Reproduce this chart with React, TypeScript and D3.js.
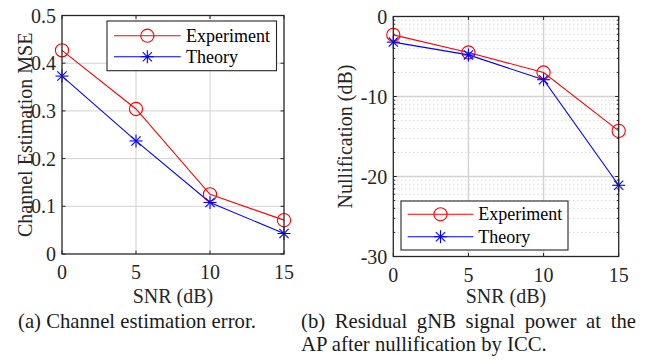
import React from "react";
import * as d3 from "d3";

// SNR sweep shared by both panels
const snr = [0, 5, 10, 15];

// (a) channel estimation MSE
const mseExperiment = [0.427, 0.304, 0.125, 0.071];
const mseTheory = [0.373, 0.237, 0.108, 0.043];
const mseTicks = [0, 0.1, 0.2, 0.3, 0.4, 0.5];

// (b) residual power after nullification (dB)
const nullExperiment = [-2.3, -4.5, -7.0, -14.3];
const nullTheory = [-3.2, -4.8, -7.9, -21.1];
const nullTicks = [-30, -20, -10, 0];

const snrTicks = [0, 5, 10, 15];
const seriesNames = ["Experiment", "Theory"];

const AXIS = "#262626";
const GRID = "#d2d2d2";
const RED = "#ff0000";
const BLUE = "#0000ff";
const SERIF = "Liberation Serif";

function Star({ x, y, color }: { x: number; y: number; color: string }) {
  const r = 6.5;
  const d = 4.6;
  return (
    <g stroke={color} strokeWidth={1.1}>
      <line x1={x - r} y1={y} x2={x + r} y2={y} />
      <line x1={x} y1={y - r} x2={x} y2={y + r} />
      <line x1={x - d} y1={y - d} x2={x + d} y2={y + d} />
      <line x1={x - d} y1={y + d} x2={x + d} y2={y - d} />
    </g>
  );
}

function Circle({ x, y, color }: { x: number; y: number; color: string }) {
  return <circle cx={x} cy={y} r={6.6} fill="none" stroke={color} strokeWidth={1.1} />;
}

type PanelProps = {
  left: number;
  right: number;
  top: number;
  bottom: number;
  yDomain: [number, number];
  yTicks: number[];
  yFormat: (v: number) => string;
  ylabel: string;
  ylabelX: number;
  expVals: number[];
  theoVals: number[];
  minorGrid: boolean;
  legend: { x0: number; x1: number; y0: number; y1: number; row1: number; row2: number; lineX0: number; lineX1: number; textX: number };
};

function Panel(p: PanelProps) {
  const x = d3.scaleLinear().domain([0, 15]).range([p.left, p.right]);
  const y = d3.scaleLinear().domain(p.yDomain).range([p.bottom, p.top]);
  const line = d3
    .line<number>()
    .x((_, i) => x(snr[i]))
    .y((v) => y(v));

  // minor gridlines placed at log-spaced offsets inside each major interval
  const minor: number[] = [];
  if (p.minorGrid) {
    for (let i = 0; i < p.yTicks.length - 1; i++) {
      const lo = p.yTicks[i];
      const hi = p.yTicks[i + 1];
      for (let k = 2; k <= 9; k++) minor.push(lo + (hi - lo) * Math.log10(k));
    }
  }
  const tickLen = 3.5;
  const lg = p.legend;
  const majorGridW = p.minorGrid ? 1.4 : 1;
  const ymid = (p.top + p.bottom) / 2;

  return (
    <g>
      {/* minor grid */}
      {minor.map((v, i) => (
        <line key={"m" + i} x1={p.left} x2={p.right} y1={y(v)} y2={y(v)} stroke="#c4c4c4" strokeWidth={1} strokeDasharray="1,3" />
      ))}
      {/* major grid */}
      {snrTicks.slice(1, -1).map((t) => (
        <line key={"gx" + t} x1={x(t)} x2={x(t)} y1={p.top} y2={p.bottom} stroke={GRID} strokeWidth={majorGridW} />
      ))}
      {p.yTicks.slice(1, -1).map((t) => (
        <line key={"gy" + t} x1={p.left} x2={p.right} y1={y(t)} y2={y(t)} stroke={GRID} strokeWidth={majorGridW} />
      ))}
      {/* tick marks */}
      {snrTicks.map((t) => (
        <g key={"tx" + t} stroke={AXIS} strokeWidth={1}>
          <line x1={x(t)} x2={x(t)} y1={p.bottom} y2={p.bottom - tickLen} />
          <line x1={x(t)} x2={x(t)} y1={p.top} y2={p.top + tickLen} />
        </g>
      ))}
      {p.yTicks.map((t) => (
        <g key={"ty" + t} stroke={AXIS} strokeWidth={1}>
          <line x1={p.left} x2={p.left + tickLen} y1={y(t)} y2={y(t)} />
          <line x1={p.right} x2={p.right - tickLen} y1={y(t)} y2={y(t)} />
        </g>
      ))}
      {minor.map((v, i) => (
        <g key={"mt" + i} stroke={AXIS} strokeWidth={1}>
          <line x1={p.left} x2={p.left + 2} y1={y(v)} y2={y(v)} />
          <line x1={p.right} x2={p.right - 2} y1={y(v)} y2={y(v)} />
        </g>
      ))}
      {/* data */}
      <path d={line(p.expVals) || ""} fill="none" stroke={RED} strokeWidth={1.1} />
      <path d={line(p.theoVals) || ""} fill="none" stroke={BLUE} strokeWidth={1.1} />
      {p.expVals.map((v, i) => (
        <Circle key={"c" + i} x={x(snr[i])} y={y(v)} color={RED} />
      ))}
      {p.theoVals.map((v, i) => (
        <Star key={"s" + i} x={x(snr[i])} y={y(v)} color={BLUE} />
      ))}
      {/* axes box */}
      <rect x={p.left} y={p.top} width={p.right - p.left} height={p.bottom - p.top} fill="none" stroke={AXIS} strokeWidth={1.3} />
      {/* tick labels */}
      {snrTicks.map((t) => (
        <text key={"lx" + t} x={x(t)} y={p.bottom + 25} textAnchor="middle" fontSize={20} fill={AXIS} fontFamily={SERIF}>
          {String(t)}
        </text>
      ))}
      {p.yTicks.map((t) => (
        <text key={"ly" + t} x={p.left - 6} y={y(t) + 7} textAnchor="end" fontSize={20} fill={AXIS} fontFamily={SERIF}>
          {p.yFormat(t)}
        </text>
      ))}
      {/* axis labels */}
      <text x={(p.left + p.right) / 2} y={303} textAnchor="middle" fontSize={20} fill={AXIS} fontFamily={SERIF}>
        SNR (dB)
      </text>
      <g transform={`translate(${p.ylabelX},${ymid})`}>
        <g transform="rotate(-90)">
          <text x={0} y={0} textAnchor="middle" fontSize={20} fill={AXIS} fontFamily={SERIF}>
            {p.ylabel}
          </text>
        </g>
      </g>
      {/* legend */}
      <rect x={lg.x0} y={lg.y0} width={lg.x1 - lg.x0} height={lg.y1 - lg.y0} fill="#ffffff" stroke={AXIS} strokeWidth={1.1} />
      <line x1={lg.lineX0} x2={lg.lineX1} y1={lg.row1} y2={lg.row1} stroke={RED} strokeWidth={1.1} />
      <Circle x={(lg.lineX0 + lg.lineX1) / 2} y={lg.row1} color={RED} />
      <line x1={lg.lineX0} x2={lg.lineX1} y1={lg.row2} y2={lg.row2} stroke={BLUE} strokeWidth={1.1} />
      <Star x={(lg.lineX0 + lg.lineX1) / 2} y={lg.row2} color={BLUE} />
      <text x={lg.textX} y={lg.row1 + 6} fontSize={18} fill="#000" fontFamily={SERIF}>
        {seriesNames[0]}
      </text>
      <text x={lg.textX} y={lg.row2 + 6} fontSize={18} fill="#000" fontFamily={SERIF}>
        {seriesNames[1]}
      </text>
    </g>
  );
}

export default function App() {
  return (
    <div>
      <svg width={660} height={362} style={{ display: "block", position: "absolute", left: 0, top: 0 }}>
        <rect width={660} height={362} fill="#ffffff" />
        <Panel
          left={62}
          right={284}
          top={15.5}
          bottom={254}
          yDomain={[0, 0.5]}
          yTicks={mseTicks}
          yFormat={(v) => (v === 0 ? "0" : d3.format(".1f")(v))}
          ylabel="Channel Estimation MSE"
          ylabelX={32}
          expVals={mseExperiment}
          theoVals={mseTheory}
          minorGrid={false}
          legend={{ x0: 107, x1: 276.5, y0: 21, y1: 70.7, row1: 35.7, row2: 56.7, lineX0: 114, lineX1: 180.7, textX: 186 }}
        />
        <Panel
          left={393.3}
          right={618.7}
          top={16.5}
          bottom={256.5}
          yDomain={[-30, 0]}
          yTicks={nullTicks}
          yFormat={(v) => String(v)}
          ylabel="Nullification (dB)"
          ylabelX={352}
          expVals={nullExperiment}
          theoVals={nullTheory}
          minorGrid={true}
          legend={{ x0: 401, x1: 568, y0: 201, y1: 250, row1: 214.3, row2: 236.7, lineX0: 407.7, lineX1: 473.3, textX: 478.3 }}
        />
        {/* captions */}
        <text x={18} y={328} fontSize={20.7} fill="#1a1a1a" fontFamily={SERIF}>
          (a) Channel estimation error.
        </text>
        <text x={301} y={328} fontSize={20.7} fill="#1a1a1a" fontFamily={SERIF} wordSpacing={4.5}>
          (b) Residual gNB signal power at the
        </text>
        <text x={301} y={351} fontSize={20.7} fill="#1a1a1a" fontFamily={SERIF}>
          AP after nullification by ICC.
        </text>
      </svg>
    </div>
  );
}
